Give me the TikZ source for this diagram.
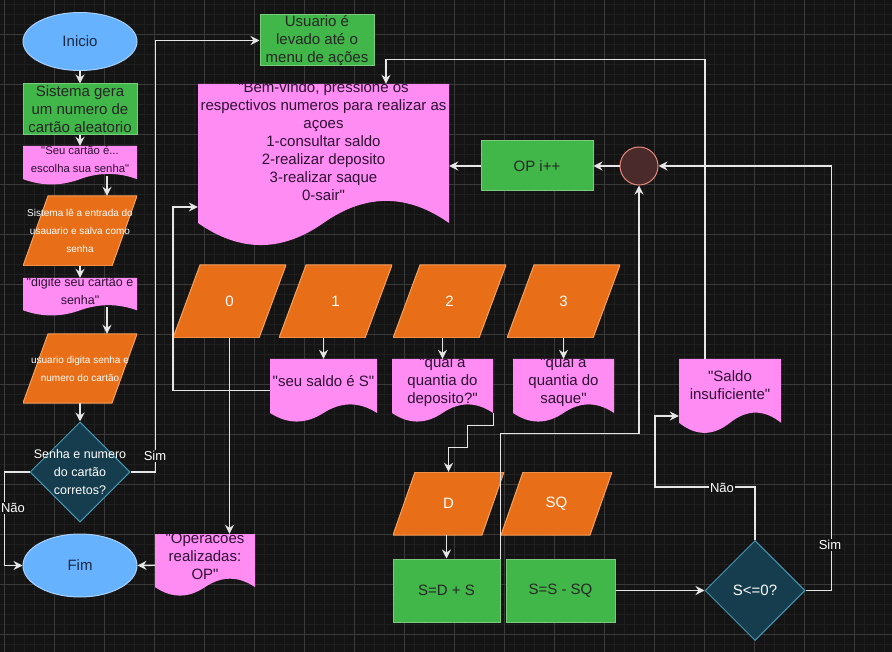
\documentclass[tikz,border=0pt]{standalone}
\usepackage{fontspec}
\setmainfont{Liberation Sans}[Ligatures=TeXOff]
\usetikzlibrary{shapes.geometric,arrows.meta}
\definecolor{bgc}{HTML}{141414}
\definecolor{gridmin}{HTML}{1F1F1F}
\definecolor{gridmaj}{HTML}{3A3A3A}
\definecolor{blu}{HTML}{66B2FF}
\definecolor{bluline}{HTML}{A9D1FF}
\definecolor{navytxt}{HTML}{1B2A45}
\definecolor{grn}{HTML}{41B649}
\definecolor{grnline}{HTML}{7ACB7E}
\definecolor{pnk}{HTML}{FF8CF2}
\definecolor{doctxt}{HTML}{2E0F35}
\definecolor{orng}{HTML}{E86E17}
\definecolor{orngline}{HTML}{F5A25E}
\definecolor{decfill}{HTML}{153D4E}
\definecolor{decline}{HTML}{4696B5}
\definecolor{circfill}{HTML}{4A2A2A}
\definecolor{circline}{HTML}{E8887A}
\definecolor{wirec}{HTML}{E6E6E6}

\begin{document}
\begin{tikzpicture}[x=1pt,y=-1pt,
    font=\fontsize{15}{18}\selectfont,
    >={Stealth[length=9pt,width=9pt,inset=3pt]},
    wire/.style={draw=wirec,line width=1.4pt,->},
    term/.style={ellipse,draw=bluline,fill=blu,line width=1pt,minimum width=114pt,minimum height=58pt,text=navytxt},
    proc/.style={rectangle,draw=grnline,fill=grn,line width=1pt,inner sep=0pt,align=center,text=black!85},
    iop/.style={rectangle,inner sep=0pt,align=center,text=white,minimum width=113pt,minimum height=73pt,
      path picture={\fill[orng,draw=orngline,line width=1pt] ([xshift=#1]path picture bounding box.north west)
        -- (path picture bounding box.north east) -- ([xshift=-#1]path picture bounding box.south east)
        -- (path picture bounding box.south west) -- cycle;}},
    iop/.default=26pt,
    decis/.style={diamond,draw=decline,fill=decfill,line width=1pt,inner sep=0pt,minimum width=100pt,minimum height=100pt},
    junct/.style={circle,draw=circline,fill=circfill,line width=1pt,minimum size=38pt,inner sep=0pt},
    docu/.style={rectangle,inner sep=0pt},
    lbl/.style={align=center,text=white},
    doclbl/.style={align=center,text=doctxt},
    elbl/.style={fill=bgc,text=white,inner sep=1pt,font=\fontsize{13}{15}\selectfont}]
  \useasboundingbox (0,0) rectangle (892,652);
  % Canvas grid
  \fill[bgc] (0,0) rectangle (892,652);
  \foreach \g in {4,14,...,884}{\draw[gridmin,line width=0.6pt] (\g,0) -- (\g,652);}
  \foreach \g in {4,14,...,644}{\draw[gridmin,line width=0.6pt] (0,\g) -- (892,\g);}
  \foreach \g in {4,54,...,854}{\draw[gridmaj,line width=0.8pt] (\g,0) -- (\g,652);}
  \foreach \g in {34,84,...,634}{\draw[gridmaj,line width=0.8pt] (0,\g) -- (892,\g);}
  % Document shape: name, centre x, top, width, height, text
  \newcommand{\mkdoc}[7][]{%
    \begin{scope}[shift={({#3-#5/2},#4)},xscale=#5,yscale=#6]
      \fill[pnk] (0,0) -- (1,0) -- (1,.85) .. controls (5/6,.67) and (2/3,.67) .. (.5,.85)
        .. controls (1/3,1.03) and (1/6,1.03) .. (0,.85) -- cycle;
    \end{scope}
    \node[docu,minimum width=#5pt,minimum height=#6pt,
      label={[doclbl,yshift=0.15*#6pt,#1]center:{#7}}] (#2) at (#3,{#4+#6/2}) {};
  }
  % Login column
  \node[term] (ini) at (80,41.5) {Inicio};
  \node[proc,minimum width=114pt,minimum height=51pt] (gera) at (80,109.5) {Sistema gera\\um numero de\\cartão aleatorio};
  \mkdoc[font=\fontsize{11.3}{18}\selectfont]{seucart}{80}{146}{114}{39}{"Seu cartão é...\\escolha sua senha"}
  \node[iop=25pt,minimum width=114pt,minimum height=70pt,font=\fontsize{10}{18}\selectfont] (lesenha) at (80,231) {Sistema lê a entrada do\\usauario e salva como\\senha};
  \mkdoc[font=\fontsize{12.5}{18}\selectfont]{digite}{80}{278}{114}{38}{"digite seu cartão e\\senha"}
  \node[iop=25pt,minimum width=114pt,minimum height=69pt,font=\fontsize{10}{18}\selectfont] (digita) at (80,368.5) {usuario digita senha e\\numero do cartão};
  \node[decis,label={[lbl,font=\fontsize{12.5}{18}\selectfont]center:{Senha e numero\\do cartão\\corretos?}}] (okcart) at (80,472) {};
  \node[term,minimum height=63pt] (fim) at (80,565.5) {Fim};
  % Menu
  \node[proc,minimum width=114pt,minimum height=51pt] (usu) at (317,40.5) {Usuario é\\levado até o\\menu de ações};
  \mkdoc{menu}{323.5}{84}{251}{163.5}{"Bem-vindo, pressione os\\respectivos numeros para realizar as\\açoes\\1-consultar saldo\\2-realizar deposito\\3-realizar saque\\0-sair"}
  \node[proc,minimum width=112pt,minimum height=50pt] (opinc) at (537,166) {OP i++};
  \node[junct] (junc) at (639,166) {};
  % Options
  \foreach \n/\cx in {0/229.5,1/335.5,2/449.5,3/563.5}{\node[iop=27pt] (op\n) at (\cx,301.5) {\n};}
  \mkdoc{saldo}{323.5}{359}{107}{63.5}{"seu saldo é S"}
  \mkdoc{qdep}{442.5}{359}{101}{63.5}{"qual a\\quantia do\\deposito?"}
  \mkdoc{qsaq}{563.5}{359}{101}{63.5}{"qual a\\quantia do\\saque"}
  \mkdoc{insuf}{730}{359}{102}{75}{"Saldo\\insuficiente"}
  \mkdoc{ops}{205}{534}{100}{62.5}{"Operacoes\\realizadas:\\OP"}
  \node[iop=22pt,minimum width=111pt,minimum height=63pt] (dep) at (448.5,503.5) {D};
  \node[iop=22pt,minimum width=111pt,minimum height=63pt] (saq) at (556.5,503.5) {SQ};
  \node[proc,minimum width=107pt,minimum height=63pt] (somad) at (446.5,590.5) {S=D + S};
  \node[proc,minimum width=109pt,minimum height=63pt] (subsq) at (560.5,590.5) {S=S - SQ};
  \node[decis,label={[lbl]center:{S<=0?}}] (neg) at (755,590.5) {};
  % Connectors
  \draw[wire] (ini) -- (gera);
  \draw[wire] (gera) -- (seucart);
  \draw[wire] ([shift={(27pt,9pt)}]seucart.south) -- ([xshift=27pt]lesenha.north);
  \draw[wire] (lesenha) -- (digite);
  \draw[wire] ([shift={(27pt,8.7pt)}]digite.south) -- ([xshift=27pt]digita.north);
  \draw[wire] (digita) -- (okcart);
  \draw[wire] (okcart.east) -- ++(25,0) |- (usu.west);
  \draw[wire] (okcart.west) -- ++(-25,0) |- (fim.west);
  \draw[wire] (ops.west) -- (fim.east);
  \draw[wire] (junc) -- (opinc);
  \draw[wire] (opinc.west) -- (opinc.west -| menu.east);
  \draw[wire] (op0.south) -- (op0.south |- ops.north);
  \foreach \src/\dst in {op1/saldo,op2/qdep,op3/qsaq}{\draw[wire] (\dst.north |- \src.south) -- (\dst.north);}
  \draw[wire] (saldo.west) -- ++(-97,0) |- ([yshift=-41.25pt]menu.west);
  \draw[wire] ([yshift=9.5pt]qdep.south east) -- ++(0,12) -- ++(-26,0) -- ++(0,22) -| (dep.north);
  \draw[wire] (somad.north |- dep.south) -- (somad.north);
  \draw[wire] (somad.north east) -- ++(0,-125) -| (junc.south);
  \draw[wire] (subsq) -- (neg);
  \draw[wire] (neg.north) -- ++(0,-53) -- ++(-100,0) |- ([yshift=-19.5pt]insuf.west);
  \draw[wire] (neg.east) -- ++(26,0) |- (junc.east);
  \draw[wire] ([xshift=-25pt]insuf.north) -- ++(0,-299) -| ([xshift=62.5pt]menu.north);
  % Edge labels
  \node[elbl] (simok) at (155,456) {Sim};
  \node[elbl] (naook) at (13,508) {Não};
  \node[elbl] (naoneg) at (722,488) {Não};
  \node[elbl] (simneg) at (830,545) {Sim};
\end{tikzpicture}
\end{document}
